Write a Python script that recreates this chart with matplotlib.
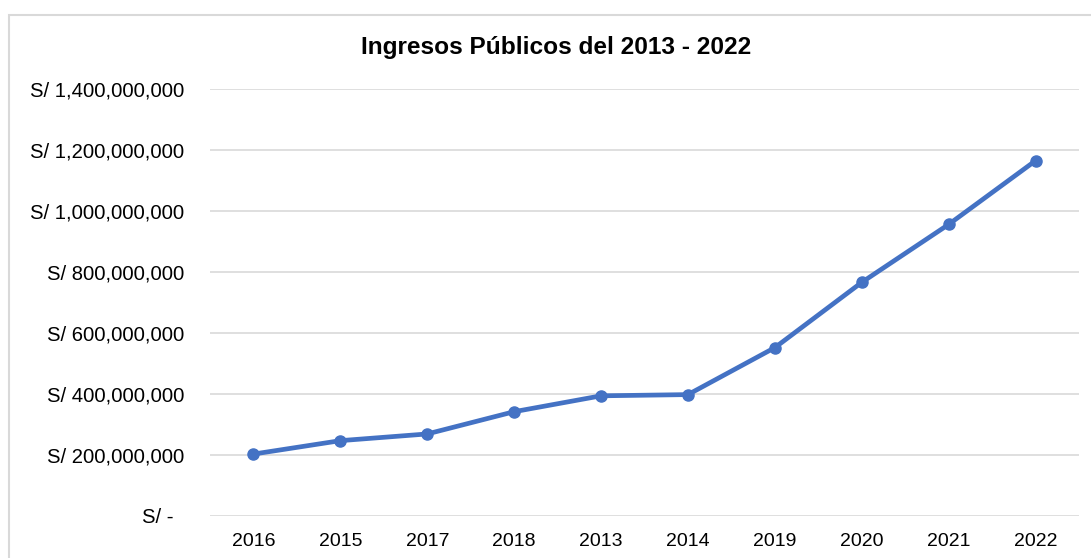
import matplotlib.pyplot as plt
from matplotlib.patches import Rectangle
from matplotlib.ticker import FuncFormatter

plt.rcParams['font.family'] = ['Liberation Sans', 'DejaVu Sans']

years = ["2016", "2015", "2017", "2018", "2013", "2014", "2019", "2020", "2021", "2022"]
ingresos = [203e6, 247e6, 269e6, 342e6, 394e6, 398e6, 552e6, 766e6, 956e6, 1165e6]

y_ticks = [0, 200e6, 400e6, 600e6, 800e6, 1000e6, 1200e6, 1400e6]


def soles(v, pos):
    # accounting style: zero shown as a dash
    if v == 0:
        return "S/ -  "
    return "S/ {:,.0f}".format(v)


fig = plt.figure(figsize=(10.91, 5.58), dpi=100)
ax = fig.add_axes([0.1925, 0.0753, 0.7965, 0.7652])

x = range(len(years))
ax.plot(x, ingresos, color="#4472C4", linewidth=3.4, marker="o", markersize=8,
        solid_capstyle="round")

ax.set_xlim(-0.5, len(years) - 0.5)
ax.set_ylim(0, 1400e6)
ax.set_xticks(list(x))
ax.set_xticklabels(years)
ax.set_yticks(y_ticks)
ax.yaxis.set_major_formatter(FuncFormatter(soles))

ax.grid(axis="y", color="#D9D9D9", linewidth=1.2)
ax.set_axisbelow(True)
for s in ax.spines.values():
    s.set_visible(False)
ax.tick_params(length=0, colors="#000000")
ax.tick_params(axis="y", pad=18.5, labelsize=14.6)
ax.tick_params(axis="x", pad=12, labelsize=14)

fig.text(0.51, 0.914, "Ingresos Públicos del 2013 - 2022", ha="center", va="center",
         fontsize=17.6, fontweight="bold")

# chart area border
fig.patches.append(Rectangle((9 / 1091, -0.05), 1.1, 1 - 15 / 558 + 0.05,
                             transform=fig.transFigure, fill=False,
                             edgecolor="#D9D9D9", linewidth=1.5))

plt.savefig("out.png", dpi=100)
